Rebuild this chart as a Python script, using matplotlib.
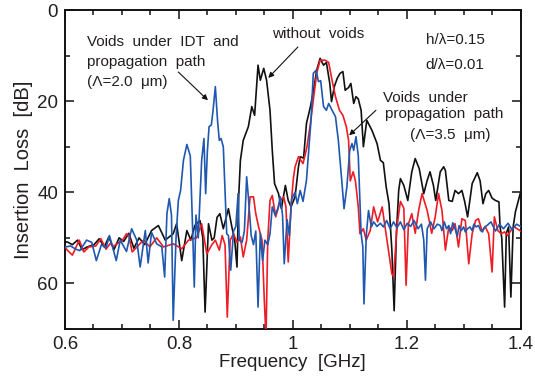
import matplotlib
matplotlib.use("Agg")
import matplotlib.pyplot as plt
from matplotlib.ticker import MultipleLocator, FixedLocator

plt.rcParams['font.family'] = ['Liberation Sans', 'DejaVu Sans']

TEXT = '#231f20'

# --- data: frequency [GHz] / insertion loss [dB] ---
black_f = [0.600, 0.604, 0.613, 0.622, 0.630, 0.639, 0.651, 0.660, 0.669, 0.677,
           0.686, 0.695, 0.703, 0.712, 0.721, 0.730, 0.740, 0.752, 0.764, 0.776,
           0.790, 0.796, 0.805, 0.814, 0.821, 0.828, 0.837, 0.842, 0.846, 0.852,
           0.858, 0.862, 0.867, 0.872, 0.878, 0.887, 0.893, 0.898, 0.902, 0.905,
           0.908, 0.913, 0.922, 0.928, 0.933, 0.939, 0.943, 0.949, 0.954, 0.960,
           0.964, 0.968, 0.975, 0.980, 0.987, 0.992, 0.997, 1.004, 1.010, 1.013,
           1.019, 1.024, 1.031, 1.036, 1.042, 1.048, 1.054, 1.059, 1.065, 1.068,
           1.073, 1.078, 1.083, 1.088, 1.092, 1.098, 1.102, 1.107, 1.111, 1.115,
           1.120, 1.124, 1.130, 1.139, 1.148, 1.154, 1.159, 1.164, 1.169, 1.174,
           1.178, 1.182, 1.186, 1.189, 1.195, 1.202, 1.209, 1.215, 1.222, 1.230,
           1.236, 1.241, 1.247, 1.251, 1.259, 1.265, 1.268, 1.274, 1.280, 1.285,
           1.291, 1.297, 1.302, 1.307, 1.315, 1.324, 1.329, 1.334, 1.339, 1.344,
           1.350, 1.356, 1.362, 1.364, 1.367, 1.372, 1.375, 1.379, 1.383, 1.387,
           1.391, 1.400]
black_db = [51.0, 50.9, 51.5, 50.5, 52.6, 52.0, 51.5, 50.2, 52.0, 49.8,
            52.6, 50.0, 50.8, 49.0, 52.3, 50.0, 51.5, 48.4, 47.3, 50.5,
            49.1, 46.9, 55.0, 48.4, 50.5, 47.3, 46.2, 50.0, 66.3, 46.9,
            50.5, 50.0, 45.5, 44.7, 48.0, 43.6, 47.6, 50.5, 56.4, 41.0,
            33.0, 28.6, 25.6, 21.2, 23.1, 12.1, 15.4, 12.8, 15.4, 22.0,
            30.8, 38.1, 40.3, 43.6, 38.5, 41.8, 43.2, 41.0, 34.4, 32.2,
            32.5, 24.9, 21.2, 17.9, 13.2, 10.6, 12.1, 11.5, 16.1, 20.1,
            16.8, 15.0, 13.9, 13.5, 17.6, 17.0, 16.1, 20.5, 19.0, 19.5,
            22.0, 30.0, 24.2, 26.4, 29.3, 33.0, 33.5, 38.8, 42.5, 52.7,
            66.0, 49.0, 39.6, 37.0, 38.5, 41.8, 35.5, 32.6, 34.8, 40.3,
            37.4, 35.5, 38.5, 41.8, 35.5, 34.4, 35.2, 41.8, 42.0, 39.6,
            40.3, 39.6, 42.1, 45.4, 38.1, 35.7, 37.5, 42.5, 40.3, 39.6,
            41.3, 41.8, 42.1, 47.6, 50.0, 65.2, 49.0, 47.6, 63.0, 47.6,
            44.3, 40.0]

red_f = [0.600, 0.604, 0.613, 0.625, 0.633, 0.642, 0.654, 0.663, 0.672, 0.679,
         0.686, 0.701, 0.708, 0.712, 0.718, 0.730, 0.738, 0.749, 0.761, 0.773,
         0.790, 0.805, 0.817, 0.831, 0.840, 0.849, 0.858, 0.864, 0.871, 0.876,
         0.881, 0.885, 0.890, 0.896, 0.902, 0.908, 0.913, 0.919, 0.925, 0.931,
         0.935, 0.940, 0.946, 0.950, 0.953, 0.956, 0.960, 0.964, 0.970, 0.978,
         0.984, 0.988, 0.992, 0.997, 1.001, 1.004, 1.010, 1.018, 1.025, 1.031,
         1.036, 1.042, 1.048, 1.057, 1.063, 1.069, 1.075, 1.082, 1.088, 1.094,
         1.098, 1.101, 1.106, 1.110, 1.115, 1.118, 1.124, 1.129, 1.136, 1.142,
         1.149, 1.157, 1.162, 1.168, 1.174, 1.177, 1.183, 1.189, 1.195, 1.199,
         1.203, 1.209, 1.215, 1.221, 1.227, 1.236, 1.244, 1.250, 1.256, 1.262,
         1.268, 1.274, 1.280, 1.285, 1.291, 1.297, 1.303, 1.309, 1.315, 1.321,
         1.326, 1.332, 1.338, 1.344, 1.350, 1.354, 1.360, 1.366, 1.372, 1.377,
         1.383, 1.389, 1.400]
red_db = [52.0, 52.7, 53.8, 50.5, 53.1, 52.0, 51.8, 50.2, 52.5, 51.3,
          51.8, 50.5, 49.1, 49.5, 53.1, 51.5, 50.5, 52.0, 50.0, 52.0,
          51.3, 52.4, 50.5, 50.0, 46.9, 53.5, 51.5, 50.5, 52.7, 49.5,
          51.5, 67.4, 50.5, 49.1, 51.0, 49.8, 54.2, 50.5, 41.0, 41.0,
          44.7, 47.6, 50.5, 63.7, 72.0, 50.5, 41.8, 40.7, 45.4, 41.8,
          41.0, 43.2, 55.3, 43.0, 37.0, 34.4, 32.2, 33.7, 30.0, 24.9,
          19.8, 13.9, 11.0, 11.0, 11.5, 15.4, 19.0, 22.0, 23.1, 25.6,
          28.6, 37.5, 35.5, 37.5, 43.2, 49.1, 48.0, 50.5, 48.4, 43.2,
          46.5, 43.2, 47.6, 52.7, 57.9, 58.5, 47.6, 42.0, 43.5, 60.4,
          47.0, 44.7, 49.0, 44.0, 40.3, 44.0, 49.0, 45.5, 40.3, 44.0,
          52.7, 47.6, 48.4, 46.9, 52.0, 45.8, 46.2, 55.7, 49.1, 46.2,
          45.8, 48.4, 47.6, 49.1, 57.5, 45.4, 48.4, 49.1, 48.7, 49.5,
          48.4, 47.6, 48.5]

blue_f = [0.600, 0.610, 0.619, 0.626, 0.638, 0.647, 0.655, 0.664, 0.672, 0.678,
          0.690, 0.697, 0.708, 0.717, 0.726, 0.732, 0.741, 0.746, 0.752, 0.761,
          0.770, 0.775, 0.779, 0.783, 0.787, 0.790, 0.795, 0.799, 0.803, 0.808,
          0.814, 0.820, 0.824, 0.827, 0.830, 0.834, 0.840, 0.844, 0.847, 0.850,
          0.853, 0.857, 0.860, 0.864, 0.868, 0.871, 0.874, 0.878, 0.881, 0.884,
          0.887, 0.891, 0.896, 0.900, 0.904, 0.906, 0.911, 0.915, 0.919, 0.922,
          0.927, 0.931, 0.935, 0.939, 0.943, 0.947, 0.951, 0.956, 0.960, 0.964,
          0.969, 0.974, 0.978, 0.982, 0.985, 0.990, 0.994, 0.998, 1.004, 1.008,
          1.013, 1.018, 1.024, 1.028, 1.032, 1.036, 1.041, 1.045, 1.049, 1.054,
          1.059, 1.063, 1.069, 1.075, 1.080, 1.086, 1.090, 1.095, 1.100, 1.104,
          1.107, 1.111, 1.115, 1.120, 1.123, 1.125, 1.129, 1.133, 1.138, 1.142,
          1.148, 1.154, 1.159, 1.165, 1.171, 1.177, 1.183, 1.189, 1.195, 1.201,
          1.207, 1.213, 1.220, 1.226, 1.230, 1.233, 1.236, 1.242, 1.248, 1.254,
          1.259, 1.262, 1.266, 1.270, 1.274, 1.277, 1.281, 1.285, 1.289, 1.292,
          1.296, 1.300, 1.303, 1.307, 1.311, 1.315, 1.318, 1.322, 1.326, 1.330,
          1.333, 1.337, 1.341, 1.348, 1.356, 1.363, 1.370, 1.378, 1.385, 1.393,
          1.400]
blue_db = [52.0, 51.8, 52.5, 52.8, 50.5, 51.0, 55.0, 51.5, 52.2, 49.5,
           55.0, 50.5, 53.0, 48.0, 50.5, 56.4, 48.4, 55.5, 48.8, 51.3,
           52.0, 58.6, 44.7, 41.4, 45.0, 68.1, 50.0, 41.8, 39.6, 33.0,
           29.5, 32.0, 47.6, 60.8, 45.0, 50.0, 33.0, 28.2, 40.3, 31.0,
           25.6, 25.2, 22.0, 16.8, 24.5, 28.6, 28.2, 30.0, 39.6, 49.1,
           49.5, 57.1, 48.5, 47.5, 40.3, 50.5, 51.0, 48.5, 36.6, 41.0,
           49.5, 51.5, 48.5, 65.2, 49.0, 55.0, 50.5, 51.5, 49.1, 43.2,
           45.0, 43.5, 41.0, 45.0, 55.7, 46.0, 49.5, 41.5, 40.0, 42.5,
           39.6, 42.0, 37.4, 30.8, 24.2, 13.9, 13.2, 15.7, 15.5, 21.2,
           22.0, 20.5, 22.0, 23.4, 28.6, 37.4, 43.6, 38.8, 30.8, 29.3,
           30.8, 27.8, 32.0, 49.1, 52.0, 64.5, 49.5, 44.0, 47.6, 46.5,
           47.5, 46.8, 47.6, 46.2, 48.0, 46.5, 47.8, 46.5, 48.2, 46.8,
           47.5, 46.2, 48.0, 47.0, 50.5, 59.3, 48.0, 46.5, 48.0, 47.0,
           47.3, 48.4, 46.5, 48.0, 47.3, 49.1, 46.7, 48.0, 49.6, 47.3,
           48.4, 47.6, 48.7, 48.0, 47.6, 48.4, 47.0, 47.6, 47.3, 48.4,
           48.7, 47.6, 47.3, 46.5, 48.5, 47.0, 48.0, 46.8, 48.2, 47.0,
           47.5]

fig = plt.figure(figsize=(5.35, 3.87), dpi=100)
ax = fig.add_axes([0.1215, 0.150, 0.8515, 0.824])

line_kw = dict(lw=1.2, solid_joinstyle='round')
ax.plot(black_f, black_db, color='#111111', zorder=2, **line_kw)
ax.plot(red_f, red_db, color='#ee1c25', zorder=3, **line_kw)
ax.plot(blue_f, blue_db, color='#1f58b0', zorder=4, **line_kw)

ax.set_xlim(0.6, 1.4)
ax.set_ylim(70, 0)
ax.xaxis.set_major_locator(FixedLocator([0.6, 0.8, 1.0, 1.2, 1.4]))
ax.set_xticklabels(['0.6', '0.8', '1', '1.2', '1.4'])
ax.xaxis.set_minor_locator(MultipleLocator(0.05))
ax.yaxis.set_major_locator(FixedLocator([0, 20, 40, 60]))
ax.yaxis.set_minor_locator(FixedLocator([10, 30, 50]))

ax.tick_params(which='both', direction='in', top=True, right=True,
               width=1.1, colors='#111111', labelcolor=TEXT, labelsize=13.5)
ax.tick_params(which='major', length=6.5, pad=5)
ax.tick_params(which='minor', length=3.8)
for s in ax.spines.values():
    s.set_linewidth(1.4)
    s.set_color('#111111')

ax.set_xlabel('Frequency  [GHz]', fontsize=13.5, color=TEXT, labelpad=1)
ax.set_ylabel('Insertion  Loss  [dB]', fontsize=14.5, color=TEXT, labelpad=3)

arrow = dict(arrowstyle='-|>', lw=0.8, color='#111111', mutation_scale=8,
             shrinkA=0, shrinkB=0)
fs = 11

ax.text(0.639, 7.0, 'Voids  under  IDT  and', fontsize=fs, color=TEXT, va='center')
ax.text(0.639, 11.4, 'propagation  path', fontsize=fs, color=TEXT, va='center')
ax.text(0.639, 15.8, '(\u039b=2.0  \u03bcm)', fontsize=fs, color=TEXT, va='center')
ax.annotate('', xy=(0.851, 19.8), xytext=(0.799, 13.6), arrowprops=arrow)

ax.text(1.045, 5.3, 'without  voids', fontsize=fs, color=TEXT, ha='center', va='center')
ax.annotate('', xy=(0.957, 14.9), xytext=(1.009, 8.1), arrowprops=arrow)

ax.text(1.285, 6.6, 'h/\u03bb=0.15', fontsize=fs, color=TEXT, ha='center', va='center')
ax.text(1.285, 12.1, 'd/\u03bb=0.01', fontsize=fs, color=TEXT, ha='center', va='center')

ax.text(1.159, 19.3, 'Voids  under', fontsize=fs, color=TEXT, va='center')
ax.text(1.162, 22.9, 'propagation  path', fontsize=fs, color=TEXT, va='center')
ax.text(1.206, 27.5, '(\u039b=3.5  \u03bcm)', fontsize=fs, color=TEXT, va='center')
ax.annotate('', xy=(1.099, 27.5), xytext=(1.146, 22.0), arrowprops=arrow)

fig.savefig('out.png', dpi=100, facecolor='white')
